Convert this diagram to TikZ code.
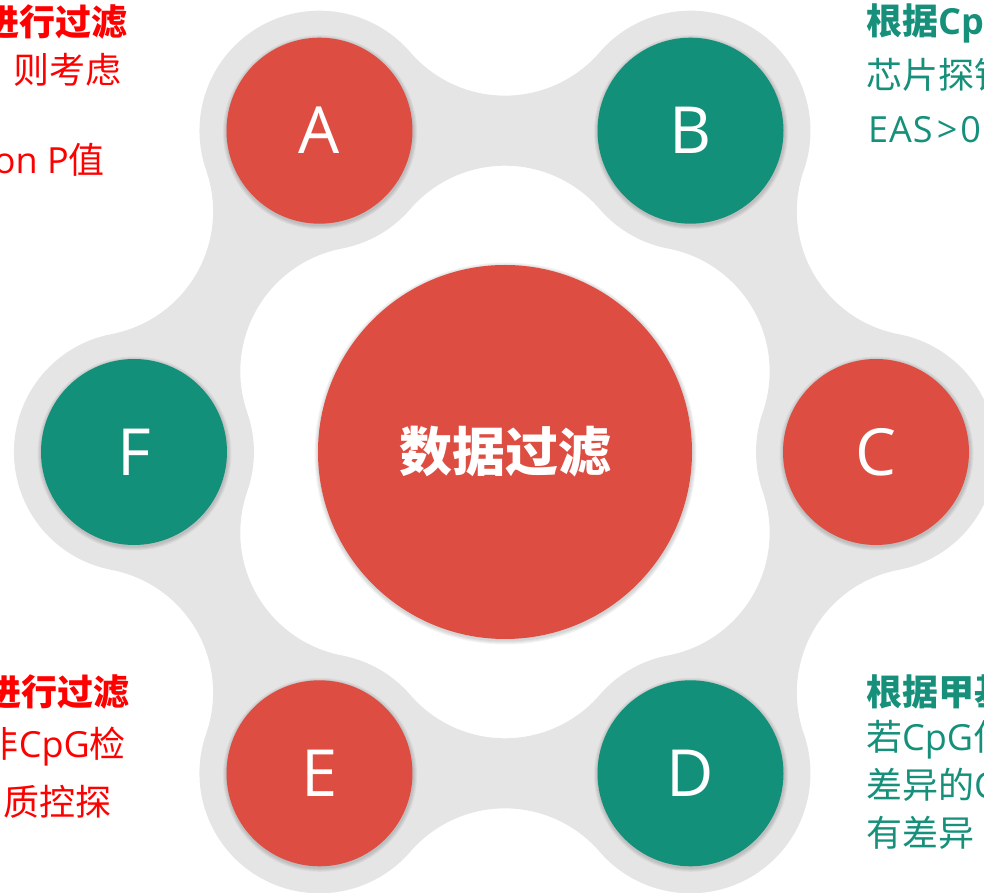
\documentclass[tikz,border=0pt]{standalone}
\usepackage{fontspec}
\setmainfont{Noto Sans CJK SC}
\newfontfamily\lat{Open Sans}
\definecolor{cred}{HTML}{DD4D42}
\definecolor{cteal}{HTML}{13907A}
\definecolor{cgray}{HTML}{E5E5E5}
\definecolor{tred}{HTML}{FF0000}
\definecolor{tteal}{HTML}{16907A}
\begin{document}
\begin{tikzpicture}[x=1pt,y=1pt,
  smallc/.style={circle, minimum size=186pt, inner sep=0pt, text=white,
    font=\fontsize{65}{72}\selectfont\lat},
  bigc/.style={circle, minimum size=374pt, inner sep=0pt, fill=cred, text=white,
    font=\fontsize{53}{60}\selectfont\bfseries},
  lbl/.style={inner sep=0pt, font=\fontsize{36}{42}\selectfont},
  lblb/.style={lbl, font=\fontsize{36}{42}\selectfont\bfseries},
]
\useasboundingbox (-505,-441) rectangle (479,452);
% grey ring
\fill[cgray, even odd rule]
  ([shift={(0:371)}]-79.22:120)
  \foreach \t in {0,60,...,300}{
     arc[start angle=\t-79.22, end angle=\t+79.22, radius=120]
     arc[start angle=\t-100.78, end angle=\t-199.22, radius=125]
  } -- cycle
  ([shift={(0:371)}]199.22:120)
  \foreach \t in {0,60,...,300}{
     arc[start angle=\t+199.22, end angle=\t+160.78, radius=120]
     arc[start angle=\t-19.22, end angle=\t+79.22, radius=125]
  } -- cycle;
% soft shadows
\foreach \a/\dd/\r in {0/0/187, 120/371/93, 60/371/93, 0/371/93,
                   -60/371/93, -120/371/93, 180/371/93}{
  \foreach \d in {1,2,3,4}{
    \fill[black, opacity=.045] ([shift={(0.5,-1.5)}]\a:\dd) circle ({\r+\d});
  }
}
% circles
\node[bigc] (M) at (0,0) {数据过滤};
\node[smallc, fill=cred]  (A) at (120:371) {A};
\node[smallc, fill=cteal] (B) at (60:371)  {B};
\node[smallc, fill=cred]  (C) at (0:371)   {C};
\node[smallc, fill=cteal] (D) at (-60:371) {D};
\node[smallc, fill=cred]  (E) at (-120:371){E};
\node[smallc, fill=cteal] (F) at (180:371) {F};
% top-left text
\node[lblb, text=tred, anchor=east] (tl1) at (-377,430) {进行过滤};
\node[lbl,  text=tred, anchor=east] (tl2) at (-383,382) {则考虑};
\node[lbl,  text=tred, anchor=east] (tl3) at (-400,292) {{\lat on P}值};
% bottom-left text
\node[lblb, text=tred, anchor=east] (bl1) at (-375,-240) {进行过滤};
\node[lbl,  text=tred, anchor=east] (bl2) at (-379,-295) {非{\lat CpG}检};
\node[lbl,  text=tred, anchor=east] (bl3) at (-393,-350) {质控探};
% top-right text
\node[lblb, text=tteal, anchor=west] (tr1) at (361,429) {根据{\lat CpG}};
\node[lbl,  text=tteal, anchor=west] (tr2) at (361,377) {芯片探针};
\node[lbl,  text=tteal, anchor=west] (tr3) at (363,322) {\lat E\kern1pt A\kern1pt S\kern4pt>\kern3pt 0};
% bottom-right text
\node[lblb, text=tteal, anchor=west] (br1) at (361,-240) {根据甲基};
\node[lbl,  text=tteal, anchor=west] (br2) at (361,-288) {若{\lat CpG}位};
\node[lbl,  text=tteal, anchor=west] (br3) at (361,-336) {差异的{\lat CpG}};
\node[lbl,  text=tteal, anchor=west] (br4) at (361,-381) {有差异};
\end{tikzpicture}
\end{document}
